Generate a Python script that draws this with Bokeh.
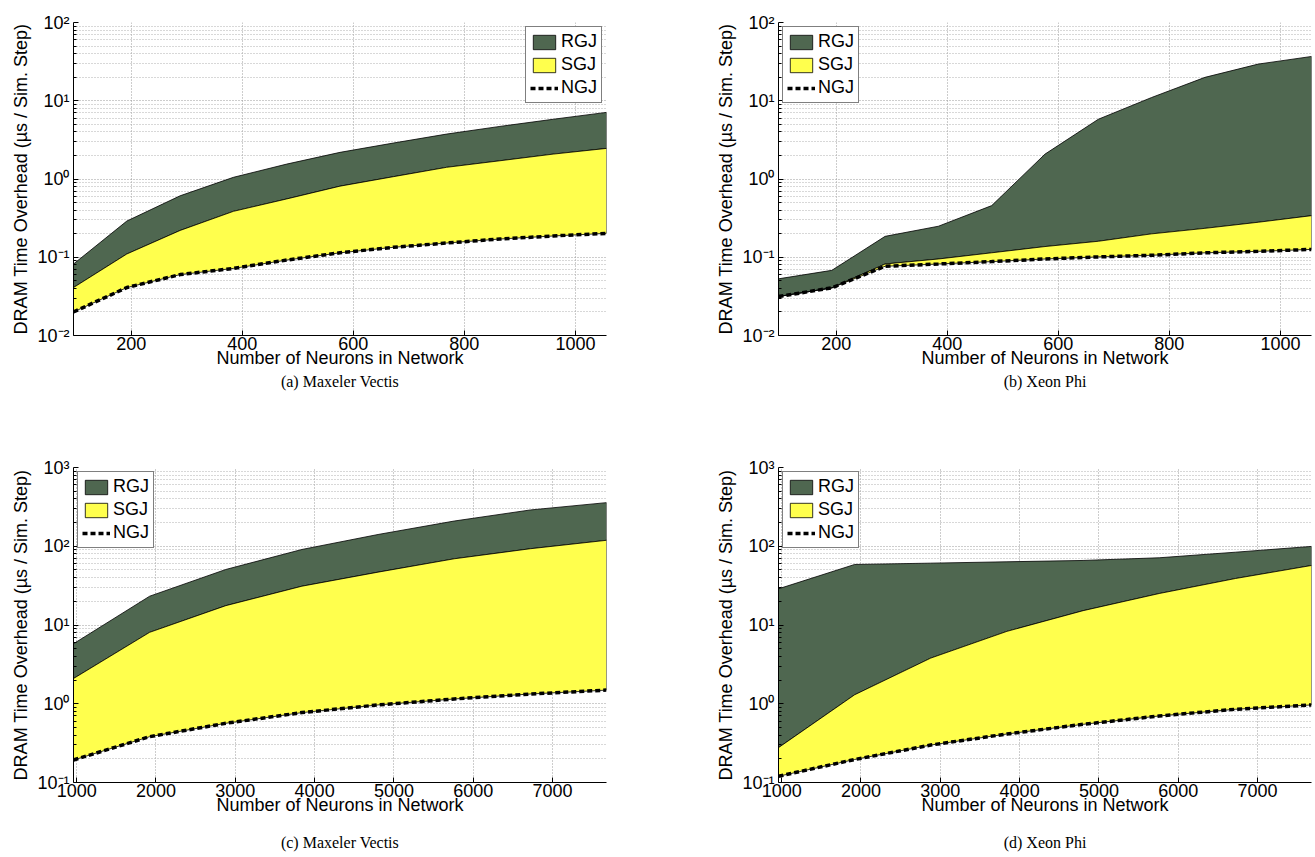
from bokeh.plotting import figure
from bokeh.models import (FixedTicker, CustomJSTickFormatter, Legend, LegendItem,
                          Title, Range1d)
from bokeh.layouts import column, row
from bokeh.embed import file_html
from bokeh.resources import INLINE

# ---------------- data ----------------
neurons_small = [96, 192, 288, 384, 480, 576, 672, 768, 864, 960, 1056]
neurons_large = [960, 1920, 2880, 3840, 4800, 5760, 6720, 7680]

vectis_small_rgj = [0.082, 0.29, 0.61, 1.05, 1.55, 2.19, 2.88, 3.75, 4.7, 5.8, 7.1]
vectis_small_sgj = [0.041, 0.11, 0.22, 0.386, 0.556, 0.81, 1.07, 1.41, 1.71, 2.08, 2.46]
vectis_small_ngj = [0.020, 0.041, 0.060, 0.072, 0.092, 0.114, 0.134, 0.152, 0.171, 0.187, 0.202]

phi_small_rgj = [0.053, 0.068, 0.185, 0.249, 0.457, 2.08, 5.8, 11.0, 19.9, 29.4, 36.8]
phi_small_sgj = [0.0315, 0.0406, 0.082, 0.095, 0.114, 0.137, 0.16, 0.199, 0.234, 0.28, 0.34]
phi_small_ngj = [0.0315, 0.0406, 0.0767, 0.082, 0.088, 0.095, 0.101, 0.106, 0.114, 0.119, 0.126]

vectis_large_rgj = [5.78, 23.2, 50.7, 91.0, 141.0, 209.0, 289.0, 358.0]
vectis_large_sgj = [2.09, 8.07, 17.6, 31.1, 46.9, 69.3, 93.0, 119.0]
vectis_large_ngj = [0.193, 0.382, 0.565, 0.772, 0.966, 1.15, 1.33, 1.49]

phi_large_rgj = [28.8, 58.7, 61.0, 63.5, 66.0, 71.4, 84.0, 99.5]
phi_large_sgj = [0.277, 1.30, 3.8, 8.3, 15.2, 25.1, 38.9, 57.0]
phi_large_ngj = [0.12, 0.196, 0.299, 0.413, 0.548, 0.70, 0.851, 0.966]

x_ticks_small = [200, 400, 600, 800, 1000]
x_ticks_large = [1000, 2000, 3000, 4000, 5000, 6000, 7000]
y_decades_top = [0.01, 0.1, 1, 10, 100]
y_decades_bottom = [0.1, 1, 10, 100, 1000]

series_names = ["RGJ", "SGJ", "NGJ"]
captions = ["(a) Maxeler Vectis", "(b) Xeon Phi", "(c) Maxeler Vectis", "(d) Xeon Phi"]
x_label = "Number of Neurons in Network"
y_label = "DRAM Time Overhead (\u00b5s / Sim. Step)"

GREEN = "#4f6750"
YELLOW = "#ffff4d"
SANS = "Liberation Sans"
SERIF = "Liberation Serif"

sup_fmt = CustomJSTickFormatter(code="""
const e = Math.round(Math.log10(tick));
const m = {'-':'\u207b','0':'\u2070','1':'\u00b9','2':'\u00b2','3':'\u00b3','4':'\u2074',
           '5':'\u2075','6':'\u2076','7':'\u2077','8':'\u2078','9':'\u2079'};
return '10' + String(e).split('').map(c => m[c]).join('');
""")


def panel(x, rgj, sgj, ngj, xticks, ydec, caption, legend_loc,
          width, height, bl, br, bt, bb, cap_pad):
    p = figure(width=width, height=height, y_axis_type="log",
               x_range=Range1d(x[0], x[-1]), y_range=Range1d(ydec[0], ydec[-1]),
               output_backend="svg", toolbar_location=None,
               min_border_left=bl, min_border_right=br,
               min_border_top=bt, min_border_bottom=bb)
    p.outline_line_color = None
    p.background_fill_color = "white"

    xs_r = list(x) + list(x)[::-1]
    ys_r = list(rgj) + list(sgj)[::-1]
    xs_s = list(x) + list(x)[::-1]
    ys_s = list(sgj) + list(ngj)[::-1]
    r_rgj = p.patch(xs_r, ys_r, fill_color=GREEN, line_color="black", line_width=0.8)
    r_sgj = p.patch(xs_s, ys_s, fill_color=YELLOW, line_color="black", line_width=0.8)
    r_ngj = p.line(x, ngj, line_color="black", line_width=3.5, line_dash="5 3")

    minor = [m * d for d in ydec[:-1] for m in range(2, 10)]
    p.yaxis.ticker = FixedTicker(ticks=ydec, minor_ticks=minor)
    p.yaxis.formatter = sup_fmt
    p.xaxis.ticker = FixedTicker(ticks=xticks)

    for ax in (p.xaxis[0], p.yaxis[0]):
        ax.axis_line_color = "black"
        ax.axis_line_width = 1
        ax.major_tick_in = 5
        ax.major_tick_out = 0
        ax.minor_tick_in = 3
        ax.minor_tick_out = 0
        ax.major_tick_line_color = "black"
        ax.minor_tick_line_color = "black"
        ax.major_label_text_font = SANS
        ax.major_label_text_font_size = "18px"
        ax.major_label_text_color = "black"
        ax.axis_label_text_font = SANS
        ax.axis_label_text_font_size = "18px"
        ax.axis_label_text_font_style = "normal"
        ax.axis_label_text_color = "black"
    p.xaxis.major_label_standoff = 1
    p.yaxis.major_label_standoff = 4
    p.xaxis.axis_label_standoff = -5
    p.yaxis.axis_label_standoff = 3
    p.xaxis.axis_label = x_label
    p.yaxis.axis_label = y_label

    p.xgrid.grid_line_color = "#9a9a9a"
    p.xgrid.grid_line_dash = "1 2"
    p.ygrid.grid_line_color = "#9a9a9a"
    p.ygrid.grid_line_dash = "1 2"
    p.ygrid.minor_grid_line_color = "#b0b0b0"
    p.ygrid.minor_grid_line_dash = "1 2"

    legend = Legend(items=[LegendItem(label=series_names[0], renderers=[r_rgj]),
                           LegendItem(label=series_names[1], renderers=[r_sgj]),
                           LegendItem(label=series_names[2], renderers=[r_ngj])],
                    location=legend_loc, margin=4, padding=4, spacing=2,
                    glyph_width=28, glyph_height=18, label_height=20,
                    label_standoff=3, label_text_font=SANS,
                    label_text_font_size="18px", label_text_color="black",
                    border_line_color="black", border_line_width=1.2,
                    background_fill_color="white", background_fill_alpha=1.0)
    p.add_layout(legend)

    p.add_layout(Title(text=caption, align="center", text_font=SERIF,
                       text_font_size="16px", text_font_style="normal",
                       text_color="black", standoff=0,
                       padding=(0, 0, cap_pad, 0)), "below")
    return p


pa = panel(neurons_small, vectis_small_rgj, vectis_small_sgj, vectis_small_ngj,
           x_ticks_small, y_decades_top, captions[0], "top_right",
           657, 428, 73, 51, 22, 93, 0)
pb = panel(neurons_small, phi_small_rgj, phi_small_sgj, phi_small_ngj,
           x_ticks_small, y_decades_top, captions[1], "top_left",
           658, 428, 121, 4, 22, 93, 0)
pc = panel(neurons_large, vectis_large_rgj, vectis_large_sgj, vectis_large_ngj,
           x_ticks_large, y_decades_bottom, captions[2], "top_left",
           657, 429, 73, 51, 39, 75, 14)
pd = panel(neurons_large, phi_large_rgj, phi_large_sgj, phi_large_ngj,
           x_ticks_large, y_decades_bottom, captions[3], "top_left",
           658, 429, 121, 4, 39, 75, 14)

layout = column(row(pa, pb, spacing=0), row(pc, pd, spacing=0), spacing=0)

with open("out.html", "w") as f:
    f.write(file_html(layout, INLINE))
